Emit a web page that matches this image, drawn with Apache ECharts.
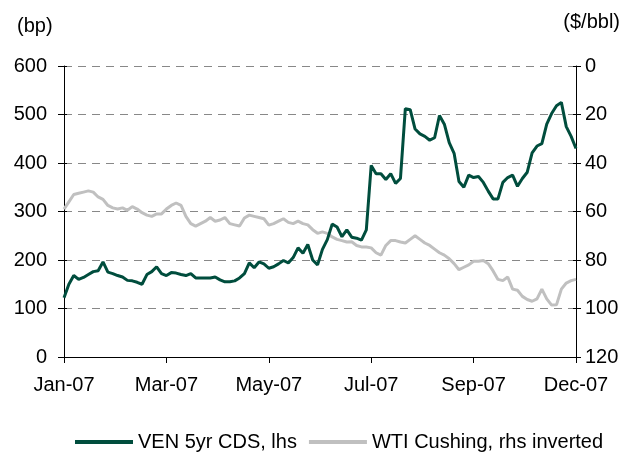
<!DOCTYPE html>
<html>
<head>
<meta charset="utf-8">
<script src="https://cdn.jsdelivr.net/npm/echarts@6/dist/echarts.min.js"></script>
<style>html,body{margin:0;padding:0;background:#fff;}#c{width:628px;height:452px;}</style>
</head>
<body>
<div id="c"></div>
<script>
var tickLabels = ['Jan-07', 'Mar-07', 'May-07', 'Jul-07', 'Sep-07', 'Dec-07'];
var cdsValues = [122,150,168,160,164,170,176,178,196,175,172,168,165,158,157,154,150,170,176,186,172,
  168,174,173,170,168,172,163,163,163,163,165,159,155,155,157,163,172,194,184,196,192,
  183,186,192,199,194,205,225,214,232,200,190,222,242,274,268,248,262,247,245,241,262,
  395,378,378,366,378,358,368,512,510,470,460,455,447,452,498,480,442,420,362,350,375,
  370,372,360,342,326,326,360,370,375,352,368,381,421,435,440,480,502,518,525,475,455,430];
var wtiValues = [59,56,53,52.5,52,51.5,52,54,55,57.5,58.5,59,58.5,59.5,58,59,60.5,61.5,62,61,61,
  59,57.5,56.5,57.5,62,65,66,65,64,62.5,64,63.5,62.5,65,65.5,66,62.7,61.5,62,62.5,63,
  65.6,65,64,63,64.5,65,64,65,65.5,67.5,69,68.4,69,70.5,71.5,72,72.6,72.5,74,74.6,74.6,
  75,77,78,74,72,72,72.6,73,71.5,70,71.5,73,74,75.5,77,78,79.5,81.5,84,83,82,
  80.5,80.5,80.2,81.5,84.5,88,88.5,87,92,92.5,95,96.3,97,96,92,96,98.6,98.5,92,89.5,88.5,88];

var step = (cdsValues.length - 1) / (tickLabels.length - 1);
var categories = cdsValues.map(function (v, i) {
  return (i % step === 0) ? tickLabels[i / step] : '';
});

var font = 'Liberation Sans, Arial, sans-serif';
var fs = 20;
var chart = echarts.init(document.getElementById('c'));
chart.setOption({
  animation: false,
  backgroundColor: '#fff',
  textStyle: {fontFamily: font},
  grid: {left: 64, right: 52, top: 66, height: 291},
  graphic: [
    {type: 'text', left: 17, top: 16, style: {text: '(bp)', fontSize: fs, fontFamily: font, fill: '#000'}},
    {type: 'text', right: 8, top: 12, style: {text: '($/bbl)', fontSize: fs, fontFamily: font, fill: '#000'}}
  ],
  legend: {
    left: 70, top: 427, itemWidth: 58, itemHeight: 4, itemGap: 12, icon: 'rect',
    textStyle: {fontSize: fs, fontFamily: font, color: '#000'},
    data: ['VEN 5yr CDS, lhs', 'WTI Cushing, rhs inverted']
  },
  xAxis: {
    type: 'category', data: categories, boundaryGap: false,
    axisLine: {lineStyle: {color: '#000', width: 1}},
    axisTick: {interval: step - 1, length: 6, lineStyle: {color: '#000'}},
    axisLabel: {interval: step - 1, color: '#000', fontSize: fs, margin: 18, fontFamily: font},
    splitLine: {show: false}
  },
  yAxis: [
    {
      type: 'value', min: 0, max: 600, interval: 100, position: 'left',
      axisLine: {show: true, lineStyle: {color: '#000'}},
      axisTick: {show: true, length: 6, lineStyle: {color: '#000'}},
      axisLabel: {color: '#000', fontSize: fs, margin: 17, fontFamily: font},
      splitLine: {show: true, lineStyle: {color: '#888', type: [8, 6], width: 1}}
    },
    {
      type: 'value', min: 0, max: 120, interval: 20, inverse: true, position: 'right',
      axisLine: {show: true, lineStyle: {color: '#000'}},
      axisTick: {show: true, length: 5, lineStyle: {color: '#000'}},
      axisLabel: {color: '#000', fontSize: fs, margin: 9, fontFamily: font},
      splitLine: {show: false}
    },
    {
      type: 'value', min: 0, max: 600, interval: 100, position: 'left',
      axisLine: {show: false}, axisLabel: {show: false}, splitLine: {show: false},
      axisTick: {show: true, inside: true, length: 3, lineStyle: {color: '#000'}}
    },
    {
      type: 'value', min: 0, max: 120, interval: 20, inverse: true, position: 'right',
      axisLine: {show: false}, axisLabel: {show: false}, splitLine: {show: false},
      axisTick: {show: true, inside: true, length: 3, lineStyle: {color: '#000'}}
    }
  ],
  series: [
    {
      name: 'VEN 5yr CDS, lhs', type: 'line', yAxisIndex: 0, data: cdsValues,
      showSymbol: false, symbol: 'none', z: 3,
      itemStyle: {color: '#004D3D'}, lineStyle: {color: '#004D3D', width: 3}
    },
    {
      name: 'WTI Cushing, rhs inverted', type: 'line', yAxisIndex: 1, data: wtiValues,
      showSymbol: false, symbol: 'none', z: 2,
      itemStyle: {color: '#C0C0C0'}, lineStyle: {color: '#C0C0C0', width: 3}
    }
  ]
});
</script>
</body>
</html>
